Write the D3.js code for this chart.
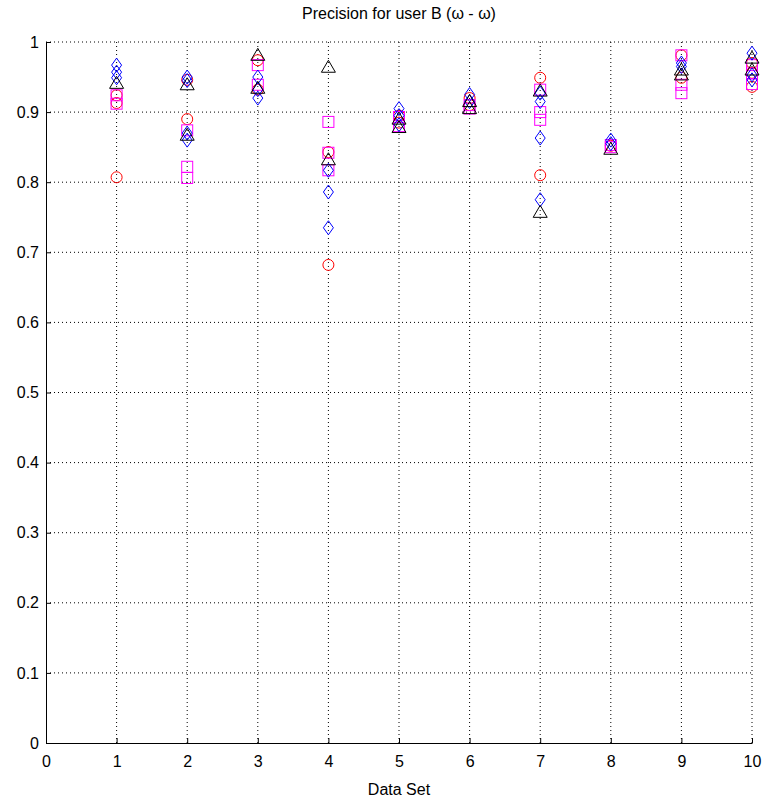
<!DOCTYPE html>
<html><head><meta charset="utf-8">
<script src="https://cdn.jsdelivr.net/npm/d3@7"></script>
<style>
body{margin:0;background:#fff;}
text{font-family:"Liberation Sans Narrow","Liberation Sans",Arial,sans-serif;}
</style></head><body>
<svg id="c" width="769" height="808"></svg>
<script>
const dataSets = [1,2,3,4,5,6,7,8,9,10];
const xTicks = [0,1,2,3,4,5,6,7,8,9,10];
const yTicks = [0,0.1,0.2,0.3,0.4,0.5,0.6,0.7,0.8,0.9,1];
// values per data set, several runs each
const redCircles = [
  [0.924,0.913,0.807],
  [0.946,0.890],
  [0.974,0.932],
  [0.843,0.682],
  [0.895,0.885],
  [0.920,0.910],
  [0.949,0.810],
  [0.852],
  [0.981,0.949],
  [0.970,0.956,0.936]
];
const magentaSquares = [
  [0.924,0.912],
  [0.874,0.822,0.806],
  [0.967,0.939],
  [0.886,0.842,0.817],
  [0.893,0.880],
  [0.910,0.905],
  [0.932,0.900,0.889],
  [0.853,0.850],
  [0.981,0.939,0.927],
  [0.967,0.955,0.940]
];
const blueDiamonds = [
  [0.967,0.957,0.949],
  [0.950,0.945,0.870,0.860],
  [0.950,0.932,0.920],
  [0.817,0.786,0.735],
  [0.905,0.895,0.882],
  [0.925,0.915],
  [0.927,0.915,0.863,0.775],
  [0.860,0.855],
  [0.970,0.965],
  [0.984,0.953,0.946]
];
const blackTriangles = [
  [0.941],
  [0.939,0.867],
  [0.981,0.934],
  [0.964,0.832],
  [0.890,0.878],
  [0.915,0.905],
  [0.930,0.757],
  [0.847],
  [0.960,0.953],
  [0.977,0.960]
];

const svg = d3.select("#c");
const m = {l:46, r:17, t:42, b:65};
const W = 769, H = 808;
const x = d3.scaleLinear().domain([0,10]).range([m.l, W-m.r]);
const y = d3.scaleLinear().domain([0,1]).range([H-m.b, m.t]);

// grid
const g = svg.append("g");
g.selectAll("line.gx").data(xTicks.slice(1)).join("line")
  .attr("x1",d=>x(d)).attr("x2",d=>x(d)).attr("y1",y(0)).attr("y2",y(1))
  .attr("stroke","#000").attr("stroke-width",1).attr("stroke-dasharray","1,3");
g.selectAll("line.gy").data(yTicks.slice(1)).join("line")
  .attr("y1",d=>y(d)).attr("y2",d=>y(d)).attr("x1",x(0)).attr("x2",x(10))
  .attr("stroke","#000").attr("stroke-width",1).attr("stroke-dasharray","1,3");

// axes
const xAxis = d3.axisBottom(x).tickValues(xTicks).tickSizeInner(-5).tickSizeOuter(0).tickPadding(10).tickFormat(d3.format("d"));
const yAxis = d3.axisLeft(y).tickValues(yTicks).tickSizeInner(-5).tickSizeOuter(0).tickPadding(7).tickFormat(d=>d===0?"0":d===1?"1":d3.format(".1f")(d));
const gx = svg.append("g").attr("transform",`translate(0,${y(0)})`).call(xAxis);
const gy = svg.append("g").attr("transform",`translate(${x(0)},0)`).call(yAxis);
[gx,gy].forEach(a=>{
  a.select(".domain").attr("stroke","#000").attr("stroke-width",1);
  a.selectAll(".tick line").attr("stroke","#000");
  a.selectAll("text").attr("font-size",16).attr("fill","#000");
});
gx.selectAll("text").attr("dy","0.9em");

// markers
function pts(arr){ const out=[]; arr.forEach((vals,i)=>vals.forEach(v=>out.push([dataSets[i],v]))); return out; }
const mk = svg.append("g").attr("fill","none").attr("stroke-width",1);
mk.selectAll("circle.r").data(pts(redCircles)).join("circle")
  .attr("cx",d=>x(d[0])).attr("cy",d=>y(d[1])).attr("r",5.5).attr("stroke","#ff0000");
mk.selectAll("rect.m").data(pts(magentaSquares)).join("rect")
  .attr("x",d=>x(d[0])-5.5).attr("y",d=>y(d[1])-5.5).attr("width",11).attr("height",11).attr("stroke","#ff00ff");
mk.selectAll("path.b").data(pts(blueDiamonds)).join("path")
  .attr("d",d=>{const cx=x(d[0]),cy=y(d[1]);return `M${cx},${cy-7}L${cx+5},${cy}L${cx},${cy+7}L${cx-5},${cy}Z`;})
  .attr("stroke","#0000ff");
mk.selectAll("path.k").data(pts(blackTriangles)).join("path")
  .attr("d",d=>{const cx=x(d[0]),cy=y(d[1]);return `M${cx},${cy-7}L${cx+7},${cy+5}L${cx-7},${cy+5}Z`;})
  .attr("stroke","#000000");

// labels
svg.append("text").attr("x",(x(0)+x(10))/2).attr("y",19).attr("text-anchor","middle")
  .attr("font-size",16).text("Precision for user B (ω - ω)");
svg.append("text").attr("x",(x(0)+x(10))/2).attr("y",795).attr("text-anchor","middle")
  .attr("font-size",16).text("Data Set");
</script></body></html>
